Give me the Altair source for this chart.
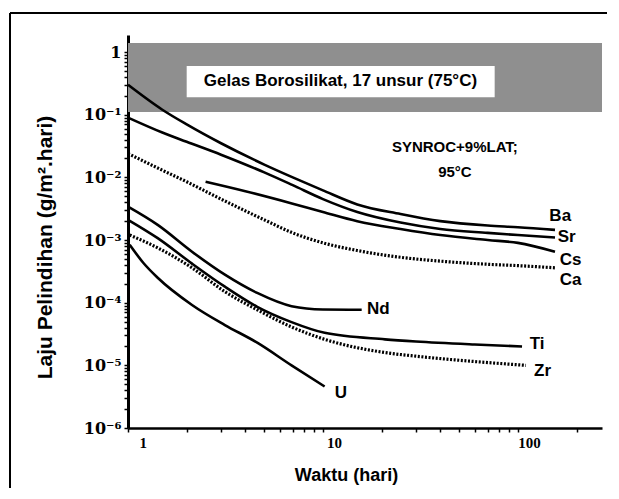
import altair as alt
import pandas as pd

# ---- data (t in days, v in g/m2.day) ----
elements = ["Ba", "Sr", "Cs", "Ca", "Nd", "Ti", "Zr", "U"]

t_ba = [1, 1.5, 2, 3, 5, 7, 10, 15, 25, 40, 70, 100, 155]
v_ba = [0.30, 0.12, 0.07, 0.035, 0.016, 0.010, 0.0062, 0.0037, 0.0026, 0.0020, 0.0017, 0.0016, 0.00145]

t_sr = [1, 1.5, 2, 3, 5, 7, 10, 15, 25, 40, 70, 100, 155]
v_sr = [0.09, 0.052, 0.037, 0.023, 0.012, 0.0075, 0.0045, 0.0028, 0.0019, 0.0015, 0.0013, 0.0012, 0.0011]

t_cs = [2.5, 4, 7, 10, 15, 25, 40, 70, 100, 155]
v_cs = [0.0085, 0.006, 0.0038, 0.0028, 0.002, 0.0015, 0.0012, 0.0010, 0.0009, 0.00065]

t_ca = [1, 1.5, 2, 3, 5, 7, 10, 15, 25, 40, 70, 100, 155]
v_ca = [0.024, 0.013, 0.0085, 0.0045, 0.0021, 0.0013, 0.0009, 0.00068, 0.00053, 0.00046, 0.00041, 0.00039, 0.00036]

t_nd = [1, 1.42, 2.13, 3.14, 4.6, 6.9, 10, 15.8]
v_nd = [3.4e-3, 1.74e-3, 6.5e-4, 2.8e-4, 1.43e-4, 8.8e-5, 7.8e-5, 7.7e-5]

t_ti = [1, 1.42, 2.13, 3.14, 4.6, 6.9, 10.2, 20.8, 30, 60, 105]
v_ti = [2.1e-3, 1.07e-3, 4.2e-4, 1.8e-4, 8.6e-5, 4.9e-5, 3.3e-5, 2.6e-5, 2.4e-5, 2.15e-5, 2e-5]

t_zr = [1.02, 1.42, 2.13, 3.14, 4.6, 6.9, 10.2, 20.8, 30, 60, 110]
v_zr = [1.2e-3, 7.5e-4, 3.6e-4, 1.5e-4, 7.7e-5, 4.1e-5, 2.6e-5, 1.6e-5, 1.4e-5, 1.15e-5, 1e-5]

t_u = [1.02, 1.2, 1.42, 2.13, 3.14, 4.6, 6.9, 10.2]
v_u = [8.4e-4, 4.3e-4, 2.5e-4, 9.2e-5, 4.4e-5, 2.3e-5, 1.0e-5, 4.6e-6]

series_t = [t_ba, t_sr, t_cs, t_ca, t_nd, t_ti, t_zr, t_u]
series_v = [v_ba, v_sr, v_cs, v_ca, v_nd, v_ti, v_zr, v_u]
hatched = ["Ca", "Zr"]

# line-end labels
label_t = [145, 160, 164, 164, 16.8, 115, 121, 11.5]
label_v = [2.4e-3, 1.1e-3, 4.8e-4, 2.3e-4, 7.8e-5, 2.2e-5, 8.0e-6, 3.6e-6]

# reference band (borosilicate glass) and its white caption box
band_t = [1, 270]
band_v = [0.11, 1.4]
box_t = [2.0, 76]
box_v = [0.19, 0.6]
notes = ["Gelas Borosilikat, 17 unsur (75°C)", "SYNROC+9%LAT;", "95°C"]
notes_t = [12.3, 47.5, 47.5]
notes_v = [0.35, 0.031, 0.0122]
notes_size = [17, 15, 15]

x_ticks = [1, 2, 3, 4, 5, 6, 7, 8, 9, 10, 20, 30, 40, 50, 60, 70, 80, 90, 100, 200]
x_labels = [1, 10, 100]
y_decades = [1e-6, 1e-5, 1e-4, 1e-3, 1e-2, 1e-1, 1]
y_decade_labels = ["10⁻⁶", "10⁻⁵", "10⁻⁴", "10⁻³", "10⁻²", "10⁻¹", "1"]

# ---- tables ----
rows = []
for name, ts, vs in zip(elements, series_t, series_v):
    for i, (t, v) in enumerate(zip(ts, vs)):
        rows.append({"element": name, "t": t, "v": v, "i": i,
                     "style": "hatched" if name in hatched else "solid"})
df = pd.DataFrame(rows)
df_lab = pd.DataFrame({"name": elements, "t": label_t, "v": label_v})
df_band = pd.DataFrame({"t": [band_t[0]], "t2": [band_t[1]], "v": [band_v[0]], "v2": [band_v[1]]})
df_box = pd.DataFrame({"t": [box_t[0]], "t2": [box_t[1]], "v": [box_v[0]], "v2": [box_v[1]]})
df_notes = pd.DataFrame({"txt": notes, "t": notes_t, "v": notes_v, "size": notes_size})

y_minor = []
for d in y_decades[:-1]:
    for k in range(1, 10):
        y_minor.append(d * k)
y_ticks = y_minor + [1]

y_expr = " : ".join(
    f"datum.value == {d!r} ? '{lab}'" for d, lab in zip(y_decades, y_decade_labels)
) + " : ''"
x_expr = " || ".join(f"datum.value == {v}" for v in x_labels)
x_expr = f"({x_expr}) ? toString(datum.value) : ''"

xs = alt.Scale(type="log", domain=[1, 270], nice=False)
ys = alt.Scale(type="log", domain=[1e-6, 1.87], nice=False)

x_axis = alt.Axis(values=x_ticks, labelExpr=x_expr, title="Waktu (hari)",
                  grid=False, domainWidth=2.5, domainColor="black", tickColor="black",
                  tickSize=4, tickWidth=1.5, labelFont="Liberation Serif", labelFontWeight="bold",
                  labelFontSize=15, labelColor="black", labelOffset=11, labelPadding=3,
                  titleFont="Liberation Sans", titleFontSize=18, titleFontWeight="bold",
                  titleColor="black", titleX=218, titleY=47, titleBaseline="middle")
y_axis = alt.Axis(values=y_ticks, labelExpr=y_expr, title="Laju Pelindihan (g/m².hari)",
                  grid=False, domainWidth=3, domainColor="black", tickColor="black",
                  tickSize=4, tickWidth=1.5, labelFont="DejaVu Serif", labelFontWeight="bold",
                  labelFontSize=16, labelColor="black", labelPadding=3,
                  titleFont="Liberation Sans", titleFontSize=21, titleFontWeight="bold",
                  titleColor="black", titleX=-83, titleY=212, titleAlign="center",
                  titleBaseline="middle")

band = alt.Chart(df_band).mark_rect(color="#8f8f8f").encode(
    x=alt.X("t:Q", scale=xs, axis=x_axis), x2="t2:Q",
    y=alt.Y("v:Q", scale=ys, axis=y_axis), y2="v2:Q")
box = alt.Chart(df_box).mark_rect(color="white").encode(
    x=alt.X("t:Q", scale=xs), x2="t2:Q", y=alt.Y("v:Q", scale=ys), y2="v2:Q")

solid = alt.Chart(df).transform_filter("datum.style == 'solid'").mark_line(
    color="black", strokeWidth=2.6, interpolate="monotone").encode(
    x=alt.X("t:Q", scale=xs), y=alt.Y("v:Q", scale=ys),
    detail="element:N", order="i:Q")
hatch = alt.Chart(df).transform_filter("datum.style == 'hatched'").mark_line(
    color="black", strokeWidth=3.2, strokeDash=[2, 1.6], interpolate="monotone").encode(
    x=alt.X("t:Q", scale=xs), y=alt.Y("v:Q", scale=ys),
    detail="element:N", order="i:Q")

labels = alt.Chart(df_lab).mark_text(align="left", baseline="middle", font="Liberation Sans",
                                     fontWeight="bold", fontSize=17, color="black").encode(
    x=alt.X("t:Q", scale=xs), y=alt.Y("v:Q", scale=ys), text="name:N")

notes_chart = alt.Chart(df_notes).mark_text(align="center", baseline="middle",
                                            font="Liberation Sans", fontWeight="bold",
                                            color="black").encode(
    x=alt.X("t:Q", scale=xs), y=alt.Y("v:Q", scale=ys), text="txt:N",
    size=alt.Size("size:Q", scale=None, legend=None))

frame_df = pd.DataFrame({"k": [0]})
frame_top = alt.Chart(frame_df).mark_rule(color="black", strokeWidth=2).encode(
    x=alt.value(-118), x2=alt.value(480), y=alt.value(-22))
frame_left = alt.Chart(frame_df).mark_rule(color="black", strokeWidth=2).encode(
    x=alt.value(-118), y=alt.value(-22), y2=alt.value(455))

chart = alt.layer(band, box, solid, hatch, labels, notes_chart, frame_top, frame_left).properties(
    width=474, height=393,
    padding={"left": 120, "top": 27, "right": 5, "bottom": 60},
    autosize=alt.AutoSizeParams(type="none"),
    background="white",
).configure_view(stroke=None)

chart.save("out.html", embed_options={"renderer": "svg", "actions": False})
